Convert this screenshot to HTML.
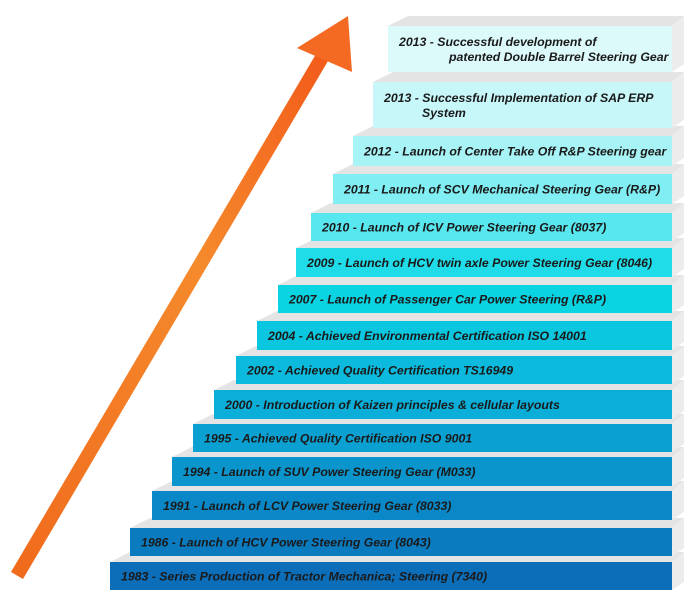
<!DOCTYPE html>
<html><head><meta charset="utf-8"><style>
html,body{margin:0;padding:0;background:#fff;width:700px;height:606px;overflow:hidden}
svg text{font-family:"Liberation Sans",Arial,sans-serif;font-weight:bold;font-style:italic;font-size:12.3px;fill:#1a1a1a}
</style></head><body>
<svg width="700" height="606" viewBox="0 0 700 606" xmlns="http://www.w3.org/2000/svg">
<defs>
<linearGradient id="ar" x1="0" y1="1" x2="1" y2="0">
<stop offset="0" stop-color="#f06a1c"/><stop offset="0.6" stop-color="#f58a2c"/><stop offset="1" stop-color="#f25a1a"/>
</linearGradient>
</defs>
<g id="steps"></g>
<!-- arrow -->
<polygon points="11,572 23,579 328,61 316,54" fill="url(#ar)"/>
<polygon points="348,16 297,48 352,72" fill="#f46a22"/>
</svg>
<script>
var d=[
[110,562,590,"#0c6db8",["1983 - Series Production of Tractor Mechanica; Steering (7340)"]],
[130,528,556,"#0b7bc0",["1986 - Launch of HCV Power Steering Gear (8043)"]],
[152,491,520,"#0a87c6",["1991 - Launch of LCV Power Steering Gear (8033)"]],
[172,457,486,"#0a95cc",["1994 - Launch of SUV Power Steering Gear (M033)"]],
[193,424,452,"#0aa1d2",["1995 - Achieved Quality Certification ISO 9001"]],
[214,390,419,"#0aaed8",["2000 - Introduction of Kaizen principles & cellular layouts"]],
[236,356,384,"#0bbadc",["2002 - Achieved Quality Certification TS16949"]],
[257,321,350,"#0ac6df",["2004 - Achieved Environmental Certification ISO 14001"]],
[278,285,313,"#0ad3e2",["2007 - Launch of Passenger Car Power Steering (R&P)"]],
[296,248,277,"#20dce8",["2009 - Launch of HCV twin axle Power Steering Gear (8046)"]],
[311,213,241,"#58e7ef",["2010 - Launch of ICV Power Steering Gear (8037)"]],
[333,174,204,"#80eef3",["2011 - Launch of SCV Mechanical Steering Gear (R&P)"]],
[353,136,166,"#a8f3f6",["2012 - Launch of Center Take Off R&P Steering gear"]],
[373,82,128,"#c8f7f9",["2013 - Successful Implementation of SAP ERP","System"]],
[388,26,72,"#ddfafb",["2013 - Successful development of","patented Double Barrel Steering Gear"]]
];
var g=document.getElementById("steps"),s="";
for(var i=0;i<d.length;i++){
 var x=d[i][0],t=d[i][1],b=d[i][2],c=d[i][3],L=d[i][4];
 var tt=t-10;
 s+='<polygon points="'+x+','+t+' '+(x+20)+','+tt+' 684,'+tt+' 672,'+t+'" fill="#e4e4e4"/>';
 s+='<polygon points="672,'+t+' 684,'+tt+' 684,'+(b-8)+' 672,'+b+'" fill="#ececec"/>';
 s+='<rect x="'+x+'" y="'+t+'" width="'+(672-x)+'" height="'+(b-t)+'" fill="'+c+'"/>';
 if(L.length==1){
  s+='<text x="'+(x+11)+'" y="'+((t+b)/2+4.5)+'">'+L[0].replace(/&/g,"&amp;")+'</text>';
 }else{
  var ind=(i==13)?38:50;
  s+='<text x="'+(x+11)+'" y="'+((t+b)/2-3)+'">'+L[0]+'</text>';
  s+='<text x="'+(x+11+ind)+'" y="'+((t+b)/2+12)+'">'+L[1]+'</text>';
 }
}
g.innerHTML=s;
</script>
</body></html>
